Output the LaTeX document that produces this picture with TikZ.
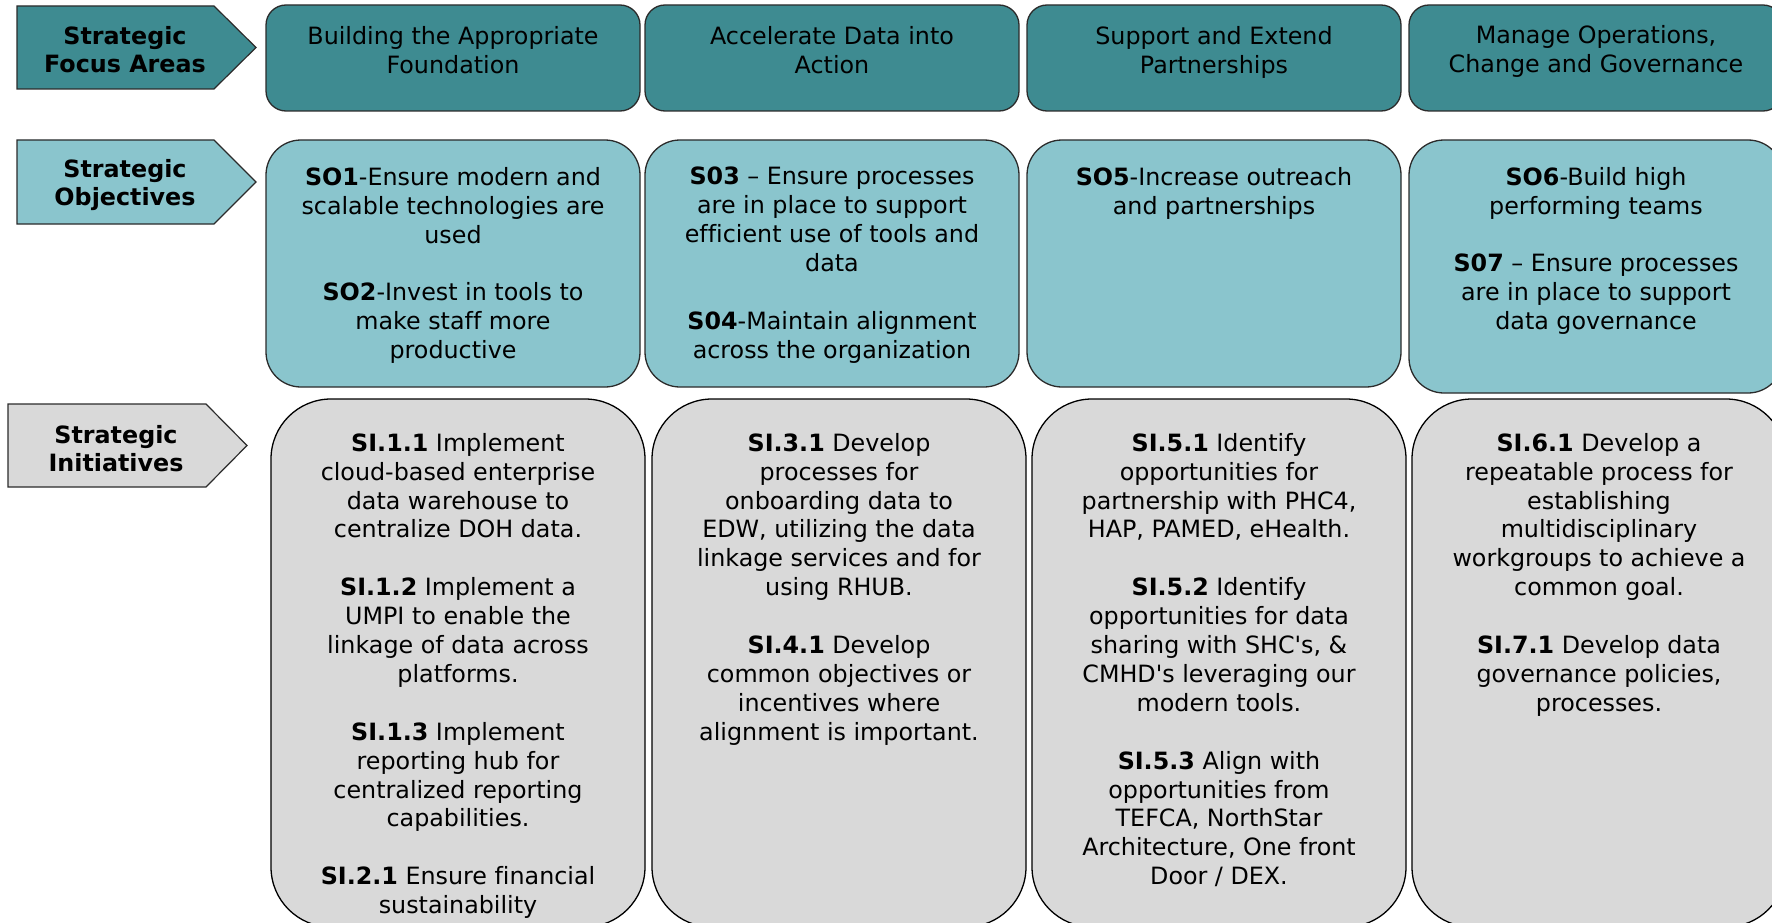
\documentclass[tikz,border=0pt]{standalone}
\usepackage{fontspec}
\newfontfamily\vera{DejaVu Sans}[Ligatures=NoCommon]
\usetikzlibrary{positioning}
\definecolor{areateal}{HTML}{3E8B91}
\definecolor{objteal}{HTML}{8AC5CD}
\definecolor{initgray}{HTML}{D9D9D9}
\definecolor{edge}{HTML}{2B2B2B}
\tikzset{
  areabox/.style={draw=edge, fill=areateal, line width=1.3pt, rounded corners=20pt, minimum width=374pt, minimum height=106pt},
  objbox/.style={draw=edge, fill=objteal, line width=1.3pt, rounded corners=35pt, minimum width=374pt, minimum height=247pt},
  initbox/.style={draw=black, fill=initgray, line width=1.3pt, rounded corners=60pt, minimum width=374pt, minimum height=528pt},
  boxtext/.style={align=center, inner sep=0pt, font=\vera\fontsize{23.8pt}{28.9pt}\selectfont},
  tagshape/.style={draw=edge, line width=1.2pt},
  tagtext/.style={align=center, inner sep=0pt, anchor=north, font=\vera\bfseries\fontsize{23.8pt}{27.5pt}\selectfont}
}
\begin{document}
\begin{tikzpicture}[x=1pt,y=-1pt]
\useasboundingbox (0,0) rectangle (1772,923);
\clip (0,0) rectangle (1772,923);

\draw [tagshape, fill=areateal] (17,6) -- (214,6) -- (256,47.5) -- (214,89) -- (17,89) -- cycle;
\node [tagtext] (tagfocus) at (125,26.5) {Strategic\\Focus Areas};
\draw [tagshape, fill=objteal] (17,140) -- (214,140) -- (256,182) -- (214,224) -- (17,224) -- cycle;
\node [tagtext] (tagobj) at (125,159.5) {Strategic\\Objectives};
\draw [tagshape, fill=initgray] (8,404) -- (206,404) -- (247,445.5) -- (206,487) -- (8,487) -- cycle;
\node [tagtext] (taginit) at (116,425.5) {Strategic\\Initiatives};

\node [areabox] (fa1) at (453,58) {};
\node [areabox] (fa2) at (832,58) {};
\node [areabox] (fa3) at (1214,58) {};
\node [areabox] (fa4) at (1596,58) {};
\node [boxtext, below=21.5pt of fa1.north] (fa1t) {Building the Appropriate\\Foundation};
\node [boxtext, below=21.5pt of fa2.north] (fa2t) {Accelerate Data into\\Action};
\node [boxtext, below=21.5pt of fa3.north] (fa3t) {Support and Extend\\Partnerships};
\node [boxtext, below=20.5pt of fa4.north] (fa4t) {Manage Operations,\\Change and Governance};

\node [objbox] (so1) at (453,263.5) {};
\node [objbox] (so2) at (832,263.5) {};
\node [objbox] (so3) at (1214,263.5) {};
\node [objbox, minimum height=253pt] (so4) at (1596,266.5) {};
\node [boxtext, below=27.6pt of so1.north] (so1t) {\textbf{SO1}-Ensure modern and\\scalable technologies are\\used\\[28.9pt]\textbf{SO2}-Invest in tools to\\make staff more\\productive};
\node [boxtext, below=27.6pt of so2.north] (so2t) {\textbf{S03} – Ensure processes\\are in place to support\\efficient use of tools and\\data\\[28.9pt]\textbf{S04}-Maintain alignment\\across the organization};
\node [boxtext, below=27.6pt of so3.north] (so3t) {\textbf{SO5}-Increase outreach\\and partnerships};
\node [boxtext, below=27.6pt of so4.north] (so4t) {\textbf{SO6}-Build high\\performing teams\\[28.9pt]\textbf{S07} – Ensure processes\\are in place to support\\data governance};

\node [initbox] (si1) at (458,663) {};
\node [initbox] (si2) at (839,663) {};
\node [initbox] (si3) at (1219,663) {};
\node [initbox] (si4) at (1599,663) {};
\node [boxtext, below=34.6pt of si1.north] (si1t) {\textbf{SI.1.1} Implement\\cloud-based enterprise\\data warehouse to\\centralize DOH data.\\[28.9pt]\textbf{SI.1.2} Implement a\\UMPI to enable the\\linkage of data across\\platforms.\\[28.9pt]\textbf{SI.1.3} Implement\\reporting hub for\\centralized reporting\\capabilities.\\[28.9pt]\textbf{SI.2.1} Ensure financial\\sustainability};
\node [boxtext, below=34.6pt of si2.north] (si2t) {\textbf{SI.3.1} Develop\\processes for\\onboarding data to\\EDW, utilizing the data\\linkage services and for\\using RHUB.\\[28.9pt]\textbf{SI.4.1} Develop\\common objectives or\\incentives where\\alignment is important.};
\node [boxtext, below=34.6pt of si3.north] (si3t) {\textbf{SI.5.1} Identify\\opportunities for\\partnership with PHC4,\\HAP, PAMED, eHealth.\\[28.9pt]\textbf{SI.5.2} Identify\\opportunities for data\\sharing with SHC's, \&\\CMHD's leveraging our\\modern tools.\\[28.9pt]\textbf{SI.5.3} Align with\\opportunities from\\TEFCA, NorthStar\\Architecture, One front\\Door / DEX.};
\node [boxtext, below=34.6pt of si4.north] (si4t) {\textbf{SI.6.1} Develop a\\repeatable process for\\establishing\\multidisciplinary\\workgroups to achieve a\\common goal.\\[28.9pt]\textbf{SI.7.1} Develop data\\governance policies,\\processes.};
\end{tikzpicture}
\end{document}
